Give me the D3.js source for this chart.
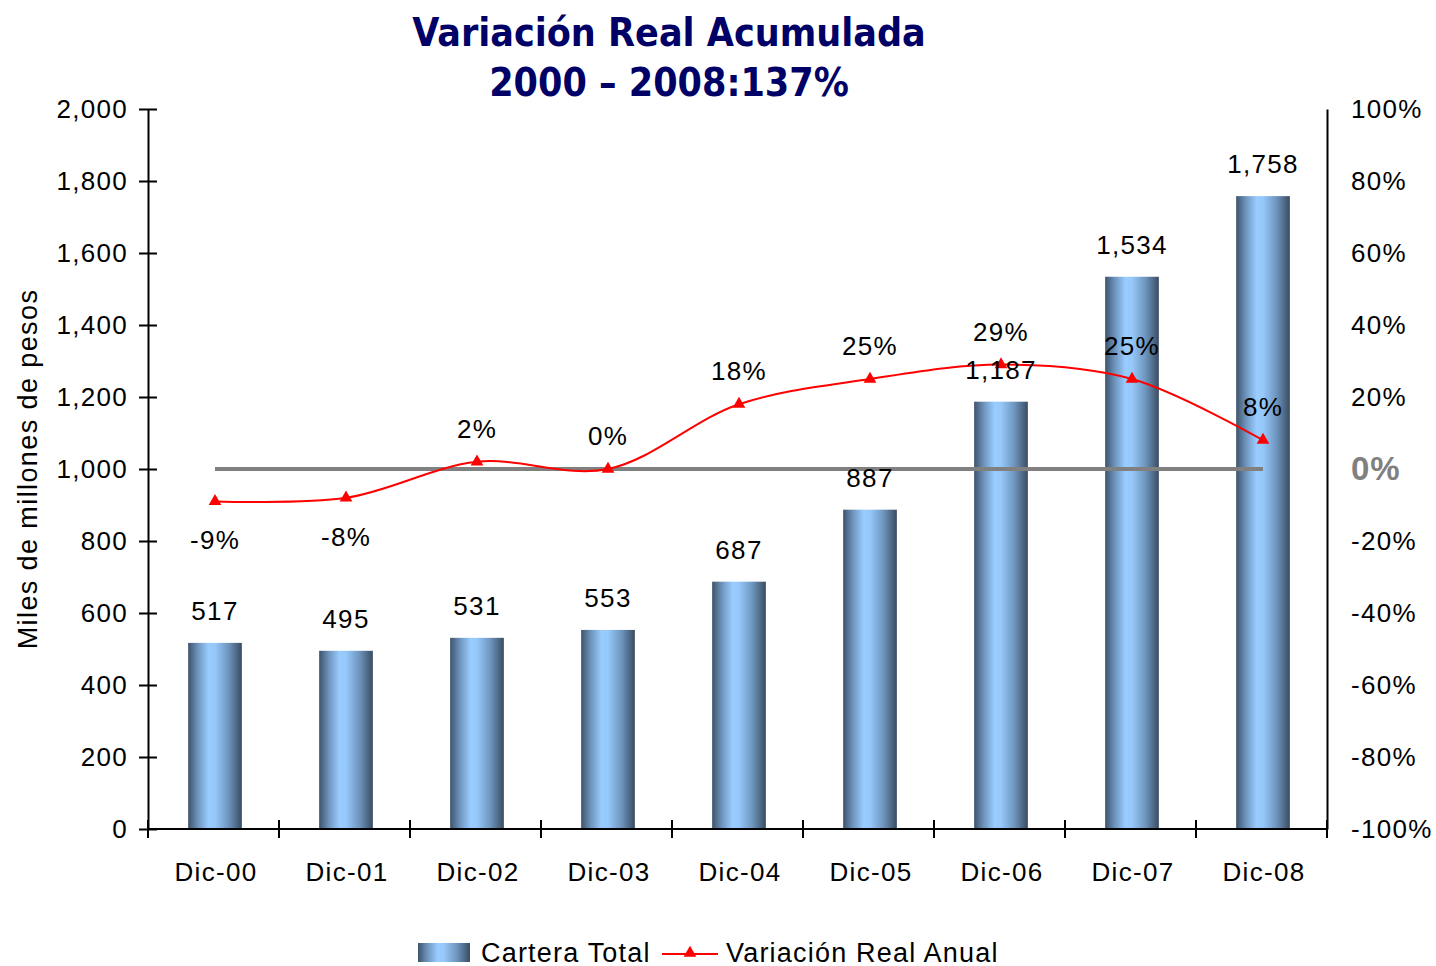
<!DOCTYPE html>
<html>
<head>
<meta charset="utf-8">
<script src="https://cdn.jsdelivr.net/npm/d3@7"></script>
<style>
  body { margin: 0; background: #fff; }
  svg { display: block; font-family: "Liberation Sans", Arial, sans-serif; }
</style>
</head>
<body>
<svg id="chart" width="1436" height="966"></svg>
<script>
// chart data
const categories = ['Dic-00', 'Dic-01', 'Dic-02', 'Dic-03', 'Dic-04', 'Dic-05', 'Dic-06', 'Dic-07', 'Dic-08'];
const carteraTotal = [517, 495, 531, 553, 687, 887, 1187, 1534, 1758];
const variacionReal = [-9, -8, 2, 0, 18, 25, 29, 25, 8];
const leftTicks = [0, 200, 400, 600, 800, 1000, 1200, 1400, 1600, 1800, 2000];
const rightTicks = [-100, -80, -60, -40, -20, 0, 20, 40, 60, 80, 100];
const titleLines = ['Variación Real Acumulada', '2000 – 2008:137%'];
const legendLabels = ['Cartera Total', 'Variación Real Anual'];

const margin = { left: 148, right: 1327, top: 109, bottom: 829 };
const svg = d3.select('#chart');

const x = d3.scaleBand()
  .domain(categories)
  .range([margin.left + 1.5, margin.right + 1.5])
  .paddingInner(0.59)
  .paddingOuter(0.295);

const y = d3.scaleLinear().domain([0, 2000]).range([margin.bottom, margin.top]);
const y2 = d3.scaleLinear().domain([-100, 100]).range([margin.bottom, margin.top]);

// bar gradient
const defs = svg.append('defs');
const grad = defs.append('linearGradient').attr('id', 'barGrad')
  .attr('x1', '0%').attr('x2', '100%').attr('y1', '0%').attr('y2', '0%');
[[0, '#3e536b'], [0.18, '#6d94bd'], [0.38, '#99ccff'], [0.5, '#96c8fa'], [0.75, '#6e95be'], [1, '#3a4c62']]
  .forEach(([o, c]) => grad.append('stop').attr('offset', o).attr('stop-color', c));

// title
svg.append('g').selectAll('text')
  .data(titleLines)
  .enter().append('text')
  .attr('x', 669)
  .attr('y', (d, i) => 46 + i * 50)
  .attr('text-anchor', 'middle')
  .style('font-family', '"DejaVu Sans Condensed", "DejaVu Sans", sans-serif')
  .style('font-weight', 'bold')
  .style('font-size', '39px')
  .style('fill', '#000066')
  .text(d => d);

// bars
svg.append('g').selectAll('rect')
  .data(carteraTotal)
  .enter().append('rect')
  .attr('x', (d, i) => x(categories[i]))
  .attr('width', x.bandwidth())
  .attr('y', d => y(d))
  .attr('height', d => y(0) - y(d))
  .style('fill', 'url(#barGrad)');

// left axis
const leftAxis = d3.axisLeft(y).tickValues(leftTicks).tickFormat(d3.format(',')).tickSize(0).tickPadding(20);
const gl = svg.append('g').attr('transform', `translate(${margin.left},0)`).call(leftAxis);
gl.select('.domain').attr('stroke', '#000').attr('stroke-width', 2);
gl.selectAll('.tick text').style('font-size', '26px').style('letter-spacing', '1.3px').style('fill', '#000');
gl.selectAll('.tick').append('line')
  .attr('x1', -9).attr('x2', 9).attr('stroke', '#000').attr('stroke-width', 2);

// bottom axis
const gb = svg.append('g').attr('transform', `translate(0,${margin.bottom})`);
gb.append('line')
  .attr('x1', margin.left).attr('x2', margin.right)
  .attr('stroke', '#000').attr('stroke-width', 2);
const bounds = d3.range(categories.length + 1).map(i => margin.left + i * x.step());
gb.selectAll('line.cat')
  .data(bounds)
  .enter().append('line').attr('class', 'cat')
  .attr('x1', d => d).attr('x2', d => d)
  .attr('y1', -9).attr('y2', 9)
  .attr('stroke', '#000').attr('stroke-width', 2);
gb.selectAll('text')
  .data(categories)
  .enter().append('text')
  .attr('x', d => x(d) + x.bandwidth() / 2 + 1)
  .attr('y', 52)
  .attr('text-anchor', 'middle')
  .style('font-size', '26px')
  .style('letter-spacing', '1.3px')
  .text(d => d);

// right axis
const rightAxis = d3.axisRight(y2).tickValues(rightTicks).tickFormat(d => d + '%').tickSize(0).tickPadding(24);
const gr = svg.append('g').attr('transform', `translate(${margin.right},0)`).call(rightAxis);
gr.select('.domain').attr('stroke', '#000').attr('stroke-width', 2);
gr.selectAll('.tick text').style('font-size', '26px').style('letter-spacing', '1.3px').style('fill', '#000');
gr.selectAll('.tick text').filter(d => d === 0)
  .style('font-size', '33px').style('font-weight', 'bold').style('letter-spacing', '1px').style('fill', '#808080');

// y axis title
svg.append('text')
  .attr('transform', `translate(37,${(margin.top + margin.bottom) / 2}) rotate(-90)`)
  .attr('text-anchor', 'middle')
  .style('font-size', '27px')
  .style('letter-spacing', '1.4px')
  .text('Miles de millones de pesos');

// zero reference line
const cx = d => x(d) + x.bandwidth() / 2;
svg.append('line')
  .attr('x1', cx(categories[0])).attr('x2', cx(categories[categories.length - 1]))
  .attr('y1', y2(0)).attr('y2', y2(0))
  .attr('stroke', '#808080').attr('stroke-width', 4);

// variation line
const line = d3.line()
  .x((d, i) => cx(categories[i]))
  .y(d => y2(d))
  .curve(d3.curveCatmullRom.alpha(0.5));
svg.append('path')
  .datum(variacionReal)
  .attr('d', line)
  .attr('fill', 'none')
  .attr('stroke', '#ff0000')
  .attr('stroke-width', 2);

const tri = d3.symbol().type(d3.symbolTriangle).size(70);
svg.append('g').selectAll('path')
  .data(variacionReal)
  .enter().append('path')
  .attr('d', tri)
  .attr('transform', (d, i) => `translate(${cx(categories[i])},${y2(d)})`)
  .attr('fill', '#ff0000');

// bar labels
svg.append('g').selectAll('text')
  .data(carteraTotal)
  .enter().append('text')
  .attr('x', (d, i) => cx(categories[i]))
  .attr('y', d => y(d) - 23)
  .attr('text-anchor', 'middle')
  .style('font-size', '26px')
  .style('letter-spacing', '1.3px')
  .text(d => d3.format(',')(d));

// variation labels
svg.append('g').selectAll('text')
  .data(variacionReal)
  .enter().append('text')
  .attr('x', (d, i) => cx(categories[i]))
  .attr('y', d => d < 0 ? y2(d) + 48 : y2(d) - 24)
  .attr('text-anchor', 'middle')
  .style('font-size', '26px')
  .style('letter-spacing', '1.3px')
  .text(d => d + '%');

// legend
const lg = svg.append('g').attr('transform', 'translate(0,952)');
lg.append('rect')
  .attr('x', 418).attr('y', -9).attr('width', 52).attr('height', 19)
  .style('fill', 'url(#barGrad)');
lg.append('text').attr('x', 481).attr('y', 10).style('font-size', '27px').style('letter-spacing', '1.2px').text(legendLabels[0]);
lg.append('line').attr('x1', 662).attr('x2', 718).attr('y1', 2).attr('y2', 2)
  .attr('stroke', '#ff0000').attr('stroke-width', 2);
lg.append('path').attr('d', tri).attr('transform', 'translate(690,1)').attr('fill', '#ff0000');
lg.append('text').attr('x', 726).attr('y', 10).style('font-size', '27px').style('letter-spacing', '1.2px').text(legendLabels[1]);
</script>
</body>
</html>
